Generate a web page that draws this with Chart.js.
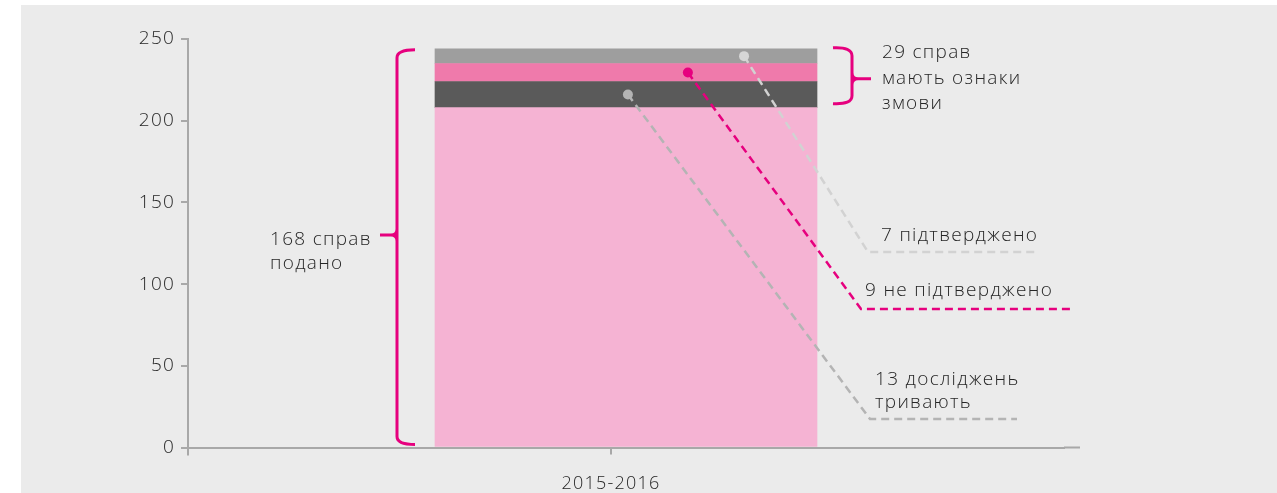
<!DOCTYPE html>
<html>
<head>
<meta charset="utf-8">
<script src="https://cdn.jsdelivr.net/npm/chart.js@4"></script>
<style>
html, body { margin: 0; padding: 0; background: #fff; }
#wrap { position: absolute; left: 21px; top: 5px; width: 1256px; height: 488px; background: #ebebeb; }
</style>
</head>
<body>
<div id="wrap"><canvas id="chart"></canvas></div>
<script>
const categories = ['2015-2016'];
const filed = [208];
const ongoing = [16];
const notConfirmed = [11];
const confirmed = [9];
const yTicks = [0, 50, 100, 150, 200, 250];

const AXIS = '#a8a8a8';
const MAGENTA = '#e6007e';
const TEXT = '#262626';
const FONT = '"Open Sans", Lato, sans-serif';
const LABEL_SHIFT = -15;

// leader lines: dot sits in the middle of a segment, then runs down-right to its label
const leaders = [
    { seg: 3, frac: 0.809, color: '#d2d2d2', dot: '#d6d6d6', corner: [847, 247], end: 1017 },
    { seg: 2, frac: 0.662, color: MAGENTA, dot: MAGENTA, corner: [840, 304], end: 1051 },
    { seg: 1, frac: 0.505, color: '#b4b4b4', dot: '#b4b4b4', corner: [849, 414], end: 996 }
];

const notes = [
    { x: 249, y: 235, t: '168 справ' },
    { x: 249, y: 259, t: 'подано' },
    { x: 861, y: 48, t: '29 справ' },
    { x: 861, y: 74, t: 'мають ознаки' },
    { x: 861, y: 99, t: 'змови' },
    { x: 860, y: 231, t: '7 підтверджено' },
    { x: 844, y: 286, t: '9 не підтверджено' },
    { x: 854, y: 375, t: '13 досліджень' },
    { x: 854, y: 398, t: 'тривають' }
];

// wider tracking, closer to the original typeface
const spacing = {
    id: 'spacing',
    beforeDraw(chart) { chart.ctx.letterSpacing = '1.2px'; }
};

const annotations = {
    id: 'annotations',
    afterDraw(chart) {
        const ctx = chart.ctx;
        const area = chart.chartArea;
        const xs = chart.scales.x;
        const ys = chart.scales.y;
        ctx.save();

        // axis extensions and the x tick under the label
        ctx.strokeStyle = AXIS;
        ctx.lineWidth = 2;
        ctx.beginPath();
        ctx.moveTo(area.right, area.bottom);
        ctx.lineTo(area.right + 16, area.bottom);
        ctx.moveTo(area.left, area.bottom);
        ctx.lineTo(area.left, area.bottom + 8);
        const tx = xs.getPixelForTick(0) + LABEL_SHIFT;
        ctx.moveTo(tx, area.bottom);
        ctx.lineTo(tx, area.bottom + 7);
        ctx.stroke();

        const bar = chart.getDatasetMeta(0).data[0];
        const barLeft = bar.x - bar.width / 2;
        const sets = chart.data.datasets;
        let acc = 0;
        const mids = [];
        const tops = [];
        sets.forEach(d => {
            mids.push(acc + d.data[0] / 2);
            acc += d.data[0];
            tops.push(acc);
        });

        // brackets
        ctx.strokeStyle = MAGENTA;
        ctx.lineWidth = 3;
        ctx.setLineDash([]);
        const bl = { x: 376, top: ys.getPixelForValue(acc) + 1, bottom: ys.getPixelForValue(0) - 3, tipX: 359, tipY: 230 };
        ctx.beginPath();
        ctx.moveTo(bl.x + 18, bl.top);
        ctx.quadraticCurveTo(bl.x, bl.top, bl.x, bl.top + 8);
        ctx.lineTo(bl.x, bl.bottom - 8);
        ctx.quadraticCurveTo(bl.x, bl.bottom, bl.x + 18, bl.bottom);
        ctx.moveTo(bl.tipX, bl.tipY);
        ctx.lineTo(bl.x - 6, bl.tipY);
        ctx.quadraticCurveTo(bl.x, bl.tipY, bl.x, bl.tipY - 6);
        ctx.moveTo(bl.x - 6, bl.tipY);
        ctx.quadraticCurveTo(bl.x, bl.tipY, bl.x, bl.tipY + 6);
        ctx.stroke();

        const br = { x: 831, top: ys.getPixelForValue(acc) - 1, bottom: ys.getPixelForValue(tops[0]) - 4, tipX: 850 };
        br.tipY = (br.top + br.bottom) / 2 + 3;
        ctx.beginPath();
        ctx.moveTo(br.x - 19, br.top);
        ctx.quadraticCurveTo(br.x, br.top - 1, br.x, br.top + 8);
        ctx.lineTo(br.x, br.bottom - 8);
        ctx.quadraticCurveTo(br.x, br.bottom + 1, br.x - 19, br.bottom);
        ctx.moveTo(br.tipX, br.tipY);
        ctx.lineTo(br.x + 6, br.tipY);
        ctx.quadraticCurveTo(br.x, br.tipY, br.x, br.tipY - 6);
        ctx.moveTo(br.x + 6, br.tipY);
        ctx.quadraticCurveTo(br.x, br.tipY, br.x, br.tipY + 6);
        ctx.stroke();

        // leader lines with dots
        leaders.forEach(l => {
            const dx = barLeft + bar.width * l.frac;
            const dy = ys.getPixelForValue(mids[l.seg]);
            ctx.strokeStyle = l.color;
            ctx.lineWidth = 2.5;
            ctx.setLineDash([8, 5]);
            ctx.beginPath();
            ctx.moveTo(dx, dy);
            ctx.lineTo(l.corner[0], l.corner[1]);
            ctx.lineTo(l.end, l.corner[1]);
            ctx.stroke();
            ctx.setLineDash([]);
            ctx.fillStyle = l.dot;
            ctx.beginPath();
            ctx.arc(dx, dy, 5, 0, Math.PI * 2);
            ctx.fill();
        });

        // text
        ctx.fillStyle = TEXT;
        ctx.font = '300 19px ' + FONT;
        ctx.letterSpacing = '1.3px';
        ctx.textBaseline = 'middle';
        ctx.textAlign = 'left';
        notes.forEach(n => ctx.fillText(n.t, n.x, n.y));

        ctx.restore();
    }
};

new Chart(document.getElementById('chart'), {
    type: 'bar',
    data: {
        labels: categories,
        datasets: [
            { label: 'подано', data: filed, backgroundColor: '#f5b3d3' },
            { label: 'тривають', data: ongoing, backgroundColor: '#5a5a5a' },
            { label: 'не підтверджено', data: notConfirmed, backgroundColor: '#ef7aab' },
            { label: 'підтверджено', data: confirmed, backgroundColor: '#9e9e9e' }
        ]
    },
    options: {
        responsive: true,
        maintainAspectRatio: false,
        animation: false,
        barThickness: 382,
        layout: { padding: { top: 34, right: 213, left: 0, bottom: 0 } },
        plugins: {
            legend: { display: false },
            tooltip: { enabled: false }
        },
        scales: {
            x: {
                stacked: true,
                grid: { display: false },
                border: { display: true, color: AXIS, width: 2 },
                ticks: {
                    color: TEXT,
                    font: { family: FONT, size: 18, weight: 300 },
                    padding: 18,
                    labelOffset: LABEL_SHIFT
                },
                afterFit(scale) { scale.height = 45.5; }
            },
            y: {
                stacked: true,
                min: 0,
                max: 250,
                afterBuildTicks(scale) { scale.ticks = yTicks.map(v => ({ value: v })); },
                grid: { drawOnChartArea: false, tickLength: 7, color: AXIS, lineWidth: 2 },
                border: { display: true, color: AXIS, width: 2 },
                ticks: {
                    color: TEXT,
                    font: { family: FONT, size: 19, weight: 300 },
                    padding: 6
                },
                afterFit(scale) { scale.width = 167; }
            }
        }
    },
    plugins: [spacing, annotations]
});
</script>
</body>
</html>
